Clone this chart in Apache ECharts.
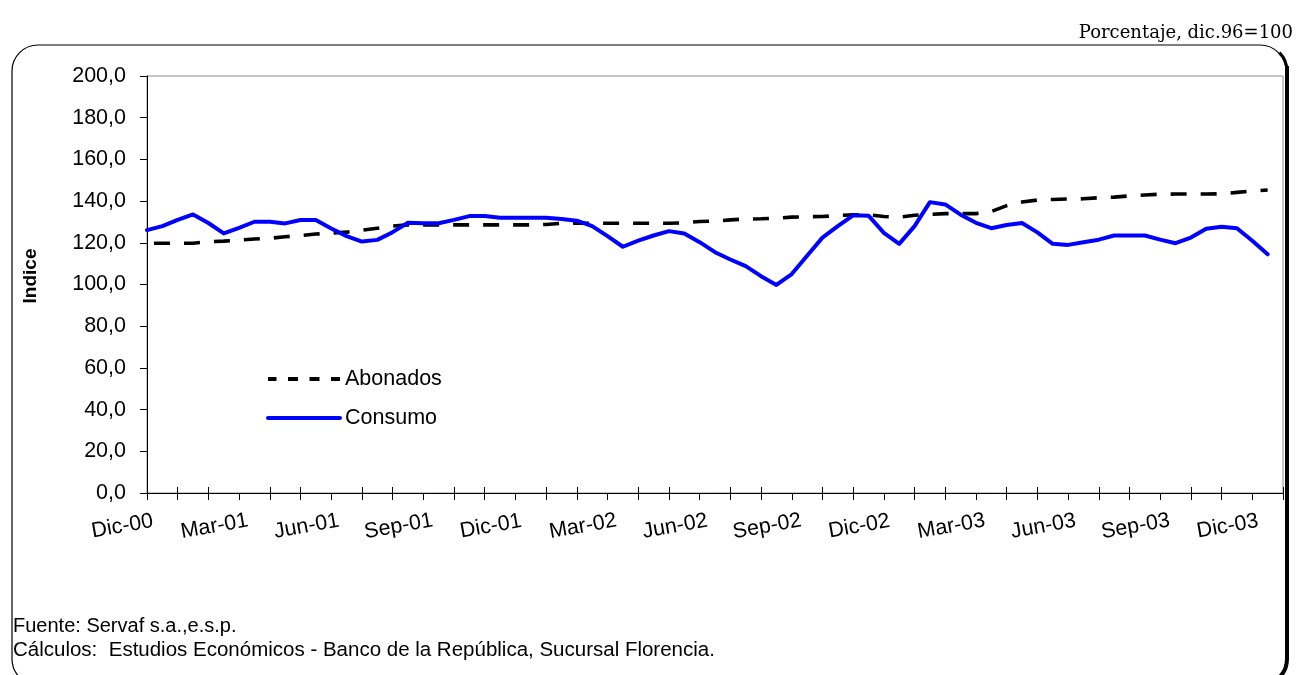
<!DOCTYPE html>
<html>
<head>
<meta charset="utf-8">
<script src="https://cdn.jsdelivr.net/npm/echarts@6/dist/echarts.min.js"></script>
<style>
html,body{margin:0;padding:0;background:#fff;}
#chart{width:1297px;height:675px;}
</style>
</head>
<body>
<div id="chart"></div>
<script>
// Month names and years for the semi-monthly category axis (Dic-00 ... Ene-04)
const monthNames = ['Ene','Feb','Mar','Abr','May','Jun','Jul','Ago','Sep','Oct','Nov','Dic'];
const categories = [];
(function(){
  let m = 11, y = 0; // Dic-00
  for (let k = 0; k < 38; k++) {
    const lab = monthNames[m] + '-' + String(y).padStart(2,'0');
    categories.push(lab);
    if (k < 37) categories.push('15-' + lab);
    m++; if (m > 11) { m = 0; y++; }
  }
})();

// Semi-monthly index values
const abonados = [
  119.8,119.8,119.8,119.8,120.5,120.8,121.3,121.8,122.2,122.9,
  123.5,124.2,124.6,125.1,126.0,127.0,128.0,128.6,128.6,128.6,
  128.6,128.6,128.6,128.6,128.6,128.6,128.8,129.3,129.4,129.4,
  129.4,129.4,129.4,129.4,129.4,129.6,130.2,130.4,131.0,131.4,
  131.5,131.8,132.3,132.5,132.6,133.1,133.4,133.4,132.6,132.3,
  133.2,133.6,134.0,134.0,134.0,135.0,137.8,139.6,140.5,140.8,
  141.0,141.1,141.6,141.9,142.5,142.9,143.3,143.4,143.4,143.4,
  143.5,144.2,144.8,145.3
];
const consumo = [
  126.1,128.0,131.0,133.6,129.5,124.5,127.2,130.1,130.1,129.3,
  130.9,130.9,126.9,123.2,120.6,121.4,125.1,129.6,129.4,129.4,
  131.0,132.8,132.8,132.0,132.0,132.0,132.0,131.4,130.6,128.0,
  123.2,118.1,121.0,123.5,125.6,124.5,120.3,115.5,112.0,108.8,
  104.0,99.8,105.0,113.8,122.5,128.0,133.2,133.0,124.8,119.5,
  128.0,139.5,138.4,133.5,129.6,127.0,128.5,129.5,125.0,119.5,
  119.0,120.3,121.5,123.5,123.5,123.5,121.5,119.8,122.5,126.7,
  127.7,127.0,121.0,114.5
];

const chart = echarts.init(document.getElementById('chart'), null, {renderer:'canvas'});
const sans = '"Liberation Sans", Arial, sans-serif';
const noSym = {color:'rgba(0,0,0,0)', borderWidth:0, opacity:0};

chart.setOption({
  animation: false,
  backgroundColor: '#fff',
  grid: {left:147, top:76, right:14, bottom:182, show:true, borderColor:'#8c8c8c', borderWidth:1, backgroundColor:'transparent'},
  legend: {
    orient: 'vertical', left: 266, top: 368, padding: 0, itemWidth: 72, itemHeight: 14, itemGap: 17,
    textStyle: {fontFamily: sans, fontSize: 21.5, color:'#000'},
    data: [
      {name:'Abonados', itemStyle: noSym, lineStyle:{type:[10,11.5], width:4, color:'#000'}},
      {name:'Consumo', itemStyle: noSym, lineStyle:{width:4, color:'#0000ff'}}
    ]
  },
  xAxis: [{
    type:'category', data: categories, boundaryGap:false, position:'bottom',
    axisLine:{lineStyle:{color:'#000', width:1}},
    axisTick:{show:true, inside:false, length:7, interval:(i)=> i%2===0, lineStyle:{color:'#000'}},
    axisLabel:{interval:(i)=> i%6===0, rotate:10, margin:29, align:'center', padding:[0,50,0,0],
               fontFamily:sans, fontSize:21.5, color:'#000'},
    splitLine:{show:false}
  },{
    type:'category', data: categories, boundaryGap:false, position:'bottom', offset:0,
    axisLine:{show:false},
    axisTick:{show:true, inside:true, length:6, interval:(i)=> i%2===0 && i%6!==0, lineStyle:{color:'#000'}},
    axisLabel:{show:false}, splitLine:{show:false}
  }],
  yAxis: {
    type:'value', min:0, max:200, interval:20,
    axisLine:{show:true, lineStyle:{color:'#000', width:1}},
    axisTick:{show:true, inside:false, length:7, lineStyle:{color:'#000'}},
    axisLabel:{margin:21, fontFamily:sans, fontSize:21.5, color:'#000', formatter:(v)=> v.toFixed(1).replace('.',',')},
    splitLine:{show:false}
  },
  series: [
    {name:'Abonados', type:'line', data: abonados, symbol:'none', smooth:false,
     lineStyle:{color:'#000', width:3.6, type:[16,14], dashOffset:23, cap:'butt'}, z:2},
    {name:'Consumo', type:'line', data: consumo, symbol:'none', smooth:false,
     lineStyle:{color:'#0000ff', width:4, join:'round', cap:'round'}, z:3}
  ],
  graphic: [
    {type:'rect', shape:{x:12, y:45, width:1274, height:640, r:26}, style:{fill:'none', stroke:'#000', lineWidth:1.2}, silent:true, z:-1},
    {type:'line', shape:{x1:1287, y1:66, x2:1287, y2:660}, style:{stroke:'#000', lineWidth:4}, silent:true},
    {type:'arc', shape:{cx:1261, cy:71, r:26, startAngle:-Math.PI/4, endAngle:0}, style:{stroke:'#000', lineWidth:3, fill:'none'}, silent:true},
    {type:'arc', shape:{cx:1261, cy:659, r:26, startAngle:0, endAngle:Math.PI/4}, style:{stroke:'#000', lineWidth:4, fill:'none'}, silent:true},
    {type:'text', style:{text:'Porcentaje, dic.96=100', x:1293, y:33, align:'right', verticalAlign:'middle', font:'18px "DejaVu Serif", serif', fill:'#000'}, silent:true},
    {type:'text', x:31, y:276, rotation:Math.PI/2, style:{text:'Indice', align:'center', verticalAlign:'middle', font:'bold 19px "Liberation Sans", Arial, sans-serif', fill:'#000'}, silent:true},
    {type:'text', style:{text:'Fuente: Servaf s.a.,e.s.p.', x:13, y:626, verticalAlign:'middle', font:'20px "Liberation Sans", Arial, sans-serif', fill:'#000'}, silent:true},
    {type:'text', style:{text:'Cálculos:  Estudios Económicos - Banco de la República, Sucursal Florencia.', x:13, y:650, verticalAlign:'middle', font:'20.5px "Liberation Sans", Arial, sans-serif', fill:'#000'}, silent:true}
  ]
});
</script>
</body>
</html>
